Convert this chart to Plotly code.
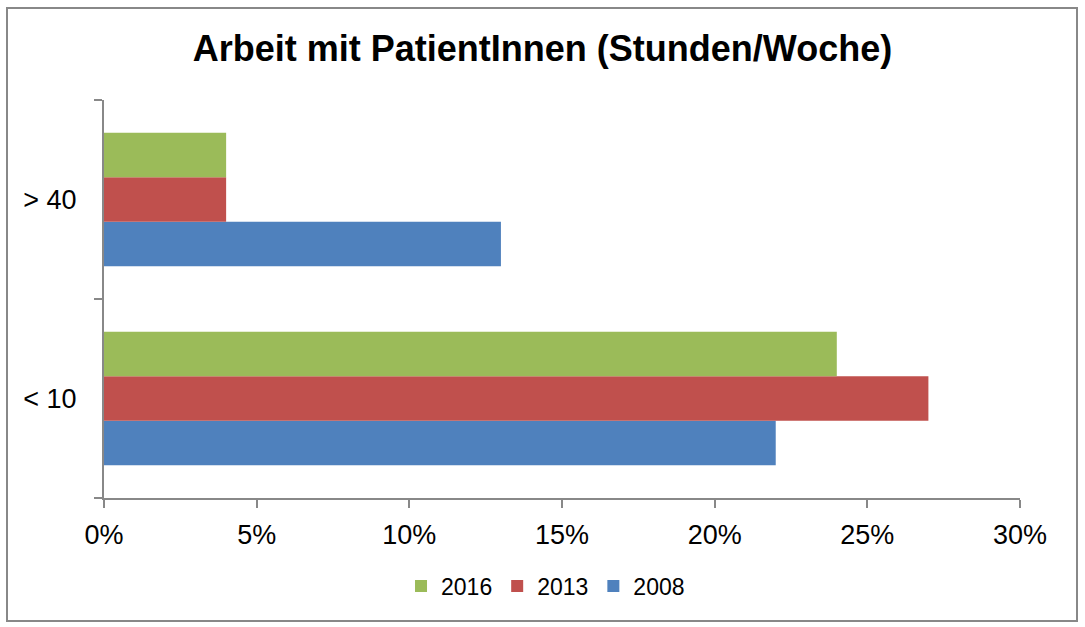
import plotly.graph_objects as go

categories = ["< 10", "> 40"]
years = ["2008", "2013", "2016"]
values_2008 = [22, 13]
values_2013 = [27, 4]
values_2016 = [24, 4]
colors = ["#4F81BD", "#C0504D", "#9BBB59"]

fig = go.Figure()
for year, vals, col in zip(years, [values_2008, values_2013, values_2016], colors):
    fig.add_trace(
        go.Bar(
            y=categories,
            x=vals,
            name=year,
            orientation="h",
            marker=dict(color=col, line=dict(width=0)),
        )
    )

fig.update_layout(
    width=1085,
    height=627,
    barmode="group",
    bargap=0.33,
    bargroupgap=0,
    plot_bgcolor="white",
    paper_bgcolor="white",
    margin=dict(l=104, r=65, t=100, b=129),
    font=dict(family="Liberation Sans, Arial", color="black"),
    title=dict(
        text="<b>Arbeit mit PatientInnen (Stunden/Woche)</b>",
        x=0.5,
        xanchor="center",
        y=1 - 48 / 627,
        yanchor="middle",
        font=dict(size=36),
    ),
    legend=dict(
        orientation="h",
        traceorder="reversed",
        x=0.482,
        xanchor="center",
        y=-0.221,
        yanchor="middle",
        font=dict(size=23),
        itemwidth=30,
    ),
    showlegend=True,
)

fig.update_xaxes(
    range=[0, 30],
    dtick=5,
    ticksuffix="%",
    showgrid=False,
    zeroline=False,
    showline=True,
    linecolor="#888888",
    linewidth=2,
    ticks="outside",
    ticklen=8,
    tickwidth=2,
    tickcolor="#888888",
    tickfont=dict(size=27),
    ticklabelstandoff=4,
)
fig.update_yaxes(
    categoryorder="array",
    categoryarray=categories,
    showgrid=False,
    showline=True,
    linecolor="#888888",
    linewidth=2,
    ticks="outside",
    tickson="boundaries",
    ticklen=8,
    tickwidth=2,
    tickcolor="#888888",
    tickfont=dict(size=27),
    ticklabelstandoff=20,
)

# grey frame around whole chart
fig.add_shape(
    type="rect",
    xref="paper",
    yref="paper",
    x0=(7 - 104) / 916,
    x1=(1077 - 104) / 916,
    y0=(498 - 621) / 398,
    y1=(498 - 8) / 398,
    line=dict(color="#888888", width=2),
    fillcolor="rgba(0,0,0,0)",
    layer="below",
)

fig.write_html(
    "out.html",
    config={"displayModeBar": False},
    post_script="document.body.style.margin='0';",
)
